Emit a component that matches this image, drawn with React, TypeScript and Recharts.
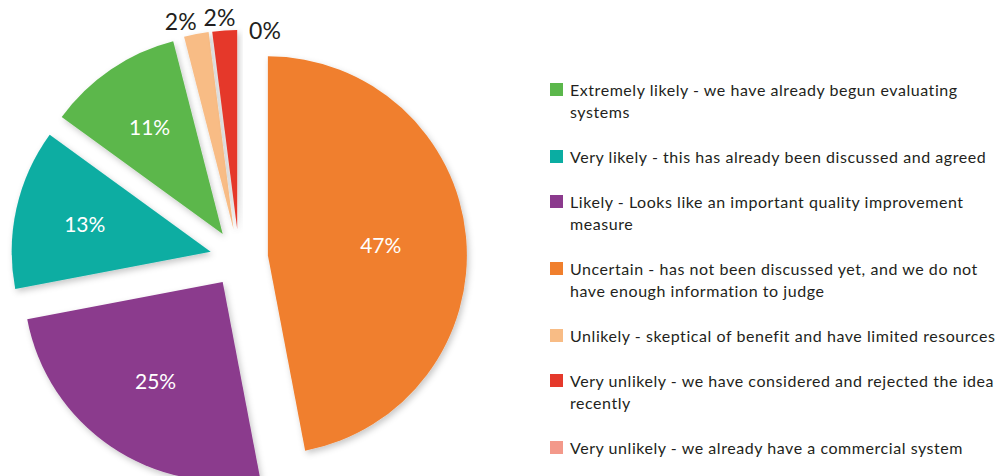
import React from 'react';
import { PieChart, Pie, Cell, Sector, Legend } from 'recharts';

// legend order
const CATEGORIES = [
  'Extremely likely - we have already begun evaluating systems',
  'Very likely - this has already been discussed and agreed',
  'Likely - Looks like an important quality improvement measure',
  'Uncertain - has not been discussed yet, and we do not have enough information to judge',
  'Unlikely - skeptical of benefit and have limited resources',
  'Very unlikely - we have considered and rejected the idea recently',
  'Very unlikely - we already have a commercial system',
];
const VALUES = [11, 13, 25, 47, 2, 2, 0];
const COLORS = ['#5BB74B', '#0AADA2', '#8B3A8D', '#F07F2D', '#F8BC85', '#E5392B', '#F3998A'];
// clockwise order of slices starting at 12 o'clock
const PIE_ORDER = [3, 2, 1, 0, 4, 5, 6];

const pieData = PIE_ORDER.map((i) => ({ name: CATEGORIES[i], value: VALUES[i] }));

const RAD = Math.PI / 180;
const EXPLODE = 29;
const FONT = 'Lato, "Open Sans", sans-serif';

const renderSlice = (props: any) => {
  const { cx, cy, midAngle, startAngle, endAngle, outerRadius, percent, index } = props;
  const src = PIE_ORDER[index];
  const cos = Math.cos(-midAngle * RAD);
  const sin = Math.sin(-midAngle * RAD);
  const sx = cx + EXPLODE * cos;
  const sy = cy + EXPLODE * sin;
  const half = (Math.abs(endAngle - startAngle) / 2) * RAD;
  const pct = Math.round(percent * 100);

  let tx: number;
  let ty: number;
  let color = '#ffffff';
  let size = 21;
  if (percent >= 0.05) {
    const centroid = (2 * outerRadius * Math.sin(half)) / (3 * half);
    const r = Math.max(centroid, 0.57 * outerRadius);
    tx = sx + r * cos;
    ty = sy + r * sin;
  } else {
    // small slices get their label outside, spread sideways a little
    const r = outerRadius + 13;
    tx = sx + (r + 70) * cos;
    ty = sy + r * sin;
    color = '#231f20';
    size = 23;
    // empty slice: nudge its label off the neighbours
    if (percent === 0) {
      tx += 26;
      ty += 13;
    }
  }

  return (
    <g key={`slice-${index}`}>
      <Sector
        cx={sx}
        cy={sy}
        innerRadius={0}
        outerRadius={outerRadius}
        startAngle={startAngle}
        endAngle={endAngle}
        fill={COLORS[src]}
        fillOpacity={1}
        stroke="none"
        filter="url(#sliceShadow)"
      />
      <text
        x={tx}
        y={ty}
        textAnchor="middle"
        dominantBaseline="central"
        fill={color}
        fontSize={size}
        fontFamily={FONT}
      >
        {pct}%
      </text>
    </g>
  );
};

const renderLegend = (props: any) => {
  const payload = [...(props.payload || [])].sort(
    (a: any, b: any) => CATEGORIES.indexOf(a.value) - CATEGORIES.indexOf(b.value)
  );
  return (
    <div
      style={{
        fontFamily: FONT,
        fontSize: 16,
        lineHeight: '22px',
        letterSpacing: '0.55px',
        color: '#231f20',
      }}
    >
      {payload.map((entry: any) => (
        <div key={entry.value} style={{ display: 'flex', alignItems: 'flex-start', marginBottom: 23 }}>
          <span
            style={{
              display: 'inline-block',
              width: 13,
              height: 13,
              marginTop: 4,
              marginRight: 7,
              flex: '0 0 13px',
              background: COLORS[CATEGORIES.indexOf(entry.value)],
            }}
          />
          <span style={{ width: 432 }}>{entry.value}</span>
        </div>
      ))}
    </div>
  );
};

export default function App() {
  return (
    <div style={{ position: 'absolute', left: 0, top: 0, width: 1002, height: 476, background: '#fff' }}>
      <PieChart width={1002} height={476} margin={{ top: 0, right: 0, bottom: 0, left: 0 }}>
        <defs>
          <filter id="sliceShadow" x="-20%" y="-20%" width="140%" height="140%">
            <feDropShadow dx="2" dy="3" stdDeviation="3" floodColor="#000" floodOpacity="0.22" />
          </filter>
        </defs>
        <Pie
          data={pieData}
          dataKey="value"
          nameKey="name"
          cx={239}
          cy={258}
          outerRadius={199}
          startAngle={90}
          endAngle={-270}
          fillOpacity={0}
          stroke="none"
          label={renderSlice}
          labelLine={false}
          isAnimationActive={false}
        >
          {pieData.map((d, i) => (
            <Cell key={d.name} fill={COLORS[PIE_ORDER[i]]} />
          ))}
        </Pie>
        <Legend
          content={renderLegend}
          wrapperStyle={{ position: 'absolute', left: 550, top: 79, width: 452 }}
        />
      </PieChart>
    </div>
  );
}
